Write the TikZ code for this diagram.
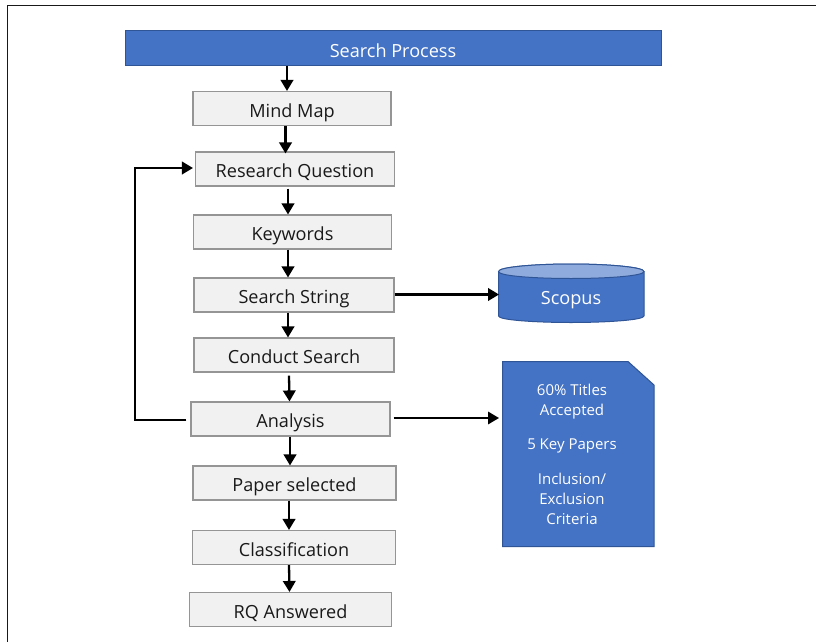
\documentclass[tikz,border=0pt]{standalone}
\usepackage{fontspec}
\setmainfont{Open Sans}
\usetikzlibrary{arrows.meta,calc}
\definecolor{blu}{HTML}{4472C4}
\definecolor{bluedge}{HTML}{2F5597}
\definecolor{blulight}{HTML}{8FAADC}
\definecolor{boxf}{HTML}{F1F1F1}
\definecolor{boxe}{HTML}{959595}
\tikzset{
 x=1pt,y=-1pt,
 stepbox/.style={draw=boxe,fill=boxf,line width=1.1pt,minimum width=198pt,minimum height=34pt,inner sep=0pt,font=\fontsize{18.1pt}{20pt}\selectfont,text=black!90,text height=17pt,text depth=0pt},
 arr/.style={-{Triangle[length=11pt,width=12.5pt]},line width=2.3pt,black},
 thinarr/.style={-{Triangle[length=11pt,width=12.5pt]},line width=1.8pt,black},
 whitetxt/.style={text=white,font=\fontsize{18.1pt}{20pt}\selectfont,inner sep=0pt}
}
\begin{document}
\begin{tikzpicture}
\useasboundingbox (0,0) rectangle (816,642);
\draw[line width=1.2pt,black!90] (7.5,642) -- (7.5,5.5) -- (816,5.5);
\node[draw=bluedge,fill=blu,minimum width=536pt,minimum height=35pt,whitetxt,text height=18pt,text depth=0pt] (top) at (393,48) {Search Process};
\node[stepbox] (mind) at (292,108.5) {Mind Map};
\node[stepbox,minimum width=199pt] (rq) at (295,169) {Research Question};
\node[stepbox] (kw) at (292.5,232) {Keywords};
\node[stepbox,minimum width=200pt] (ss) at (294,295) {Search String};
\node[stepbox,minimum width=200pt] (cs) at (294,355) {Conduct Search};
\node[stepbox,minimum width=199pt] (an) at (290.5,419) {Analysis};
\node[stepbox,minimum width=203pt] (ps) at (294.5,483) {Paper selected};
\node[stepbox,minimum width=203pt] (cl) at (294,547.5) {Classification};
\node[stepbox,minimum width=202pt] (ans) at (290.5,609.5) {RQ Answered};
\filldraw[draw=bluedge,fill=blu,line width=1pt] (498.5,271.5) .. controls (498.5,267) and (535,264) .. (571,264) .. controls (607,264) and (644,267) .. (644,271.5) -- (644,316) .. controls (644,320) and (607,322.5) .. (571,322.5) .. controls (535,322.5) and (498.5,320) .. (498.5,316) -- cycle;
\filldraw[draw=bluedge,fill=blulight,line width=1pt] (498.5,271.5) .. controls (498.5,267) and (535,264) .. (571,264) .. controls (607,264) and (644,267) .. (644,271.5) .. controls (644,276) and (607,278.5) .. (571,278.5) .. controls (535,278.5) and (498.5,276) .. (498.5,271.5) -- cycle;
\node[whitetxt,text height=14pt,text depth=0pt] (sc) at (571,297) {Scopus};
\coordinate (scl) at (499,294.5);
\filldraw[draw=bluedge,fill=blu,line width=1pt] (502.5,361.5) -- (628,361.5) -- (654,385) -- (654,546.5) -- (502.5,546.5) -- cycle;
\coordinate (docl) at (499,418);
\node[text=white,font=\fontsize{15pt}{20.4pt}\selectfont,align=center,inner sep=0pt] (doct) at (572,454.5) {60\% Titles\\Accepted\\[13pt]5 Key Papers\\[14.5pt]Inclusion/\\Exclusion\\Criteria};
\draw[arr] ([xshift=-5pt]mind.north |- top.south) -- ([xshift=-5pt]mind.north);
\draw[arr] ([xshift=-6.5pt]mind.south) -- ([xshift=-9.5pt,yshift=-2pt]rq.north);
\draw[arr] ([xshift=-7pt,yshift=-2pt]rq.south) -- ([xshift=-4.5pt]kw.north);
\draw[arr] ([xshift=-4.5pt]kw.south) -- ([xshift=-6pt]ss.north);
\draw[arr] ([xshift=-6pt]ss.south) -- ([xshift=-6pt]cs.north);
\draw[arr] ([xshift=-5pt,yshift=-3pt]cs.south) -- ([xshift=-1pt]an.north);
\draw[arr] ([xshift=-0.5pt]an.south) -- ([xshift=-4.5pt]ps.north);
\draw[arr] ([xshift=-5.5pt]ps.south) -- ([xshift=-5pt]cl.north);
\draw[arr] ([xshift=-5pt]cl.south) -- ([xshift=-1pt]ans.north);
\draw[arr] (ss.east |- scl) -- (scl);
\draw[thinarr] ([xshift=3pt]an.east |- docl) -- (docl);
\coordinate (loopa) at (135,420);
\coordinate (loopb) at (135,168);
\draw[arr] ([xshift=-4pt,yshift=-1pt]an.west) -- (loopa) -- (loopb) -- ([xshift=-2pt,yshift=1pt]rq.west);
\end{tikzpicture}
\end{document}
